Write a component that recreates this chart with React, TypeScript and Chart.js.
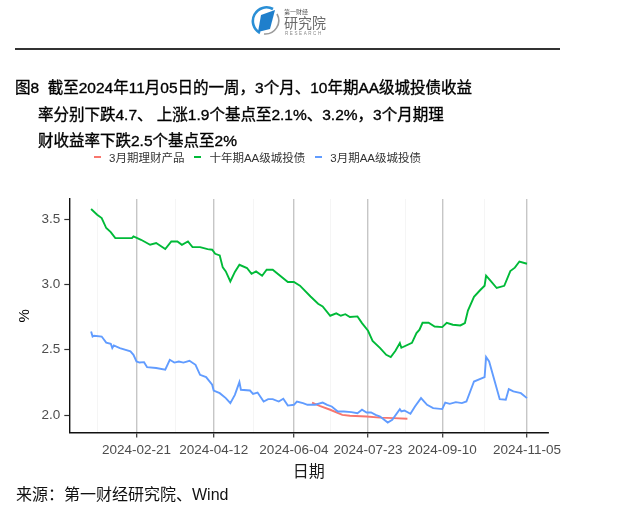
import React, { useEffect, useRef } from 'react'
import { Chart, registerables } from 'chart.js'

Chart.register(...registerables)

// 3月期理财产品
const wmpDates = ['2024-06-16', '2024-06-21', '2024-06-28', '2024-07-06', '2024-07-11', '2024-07-22', '2024-07-31', '2024-08-09', '2024-08-18']
const wmpValues = [2.096, 2.071, 2.041, 2.002, 1.995, 1.989, 1.981, 1.977, 1.972]

// 十年期AA级城投债
const aa10yDates = [
	'2024-01-22', '2024-01-26', '2024-01-29', '2024-02-01', '2024-02-04', '2024-02-07', '2024-02-18', '2024-02-19',
	'2024-02-24', '2024-03-01', '2024-03-05', '2024-03-11', '2024-03-15', '2024-03-19', '2024-03-22', '2024-03-26',
	'2024-03-29', '2024-04-03', '2024-04-08', '2024-04-11', '2024-04-13', '2024-04-16', '2024-04-18', '2024-04-20',
	'2024-04-23', '2024-04-26', '2024-04-29', '2024-05-04', '2024-05-07', '2024-05-10', '2024-05-14', '2024-05-17',
	'2024-05-21', '2024-05-31', '2024-06-04', '2024-06-08', '2024-06-15', '2024-06-20', '2024-06-23', '2024-06-28',
	'2024-07-02', '2024-07-05', '2024-07-08', '2024-07-11', '2024-07-16', '2024-07-19', '2024-07-23', '2024-07-26',
	'2024-07-31', '2024-08-04', '2024-08-07', '2024-08-10', '2024-08-13', '2024-08-14', '2024-08-21', '2024-08-24',
	'2024-08-26', '2024-08-28', '2024-09-01', '2024-09-05', '2024-09-10', '2024-09-13', '2024-09-17', '2024-09-22',
	'2024-09-25', '2024-09-27', '2024-10-01', '2024-10-05', '2024-10-08', '2024-10-09', '2024-10-12', '2024-10-16',
	'2024-10-21', '2024-10-25', '2024-10-28', '2024-10-31', '2024-11-05',
]
const aa10yValues = [
	3.576, 3.533, 3.507, 3.431, 3.4, 3.354, 3.354, 3.367,
	3.341, 3.303, 3.316, 3.27, 3.328, 3.328, 3.303, 3.328,
	3.285, 3.285, 3.27, 3.265, 3.234, 3.221, 3.13, 3.099,
	3.022, 3.095, 3.15, 3.125, 3.081, 3.099, 3.066, 3.112,
	3.112, 3.018, 3.018, 2.99, 2.907, 2.852, 2.831, 2.76,
	2.778, 2.76, 2.772, 2.75, 2.755, 2.704, 2.645, 2.568,
	2.513, 2.461, 2.444, 2.49, 2.551, 2.515, 2.553, 2.627,
	2.653, 2.706, 2.706, 2.678, 2.673, 2.706, 2.691, 2.686,
	2.704, 2.8, 2.905, 2.955, 2.99, 3.066, 3.026, 2.972,
	2.989, 3.102, 3.128, 3.175, 3.158,
]

// 3月期AA级城投债
const aa3mDates = [
	'2024-01-22', '2024-01-23', '2024-01-24', '2024-01-29', '2024-02-01', '2024-02-04', '2024-02-05', '2024-02-06',
	'2024-02-10', '2024-02-17', '2024-02-19', '2024-02-21', '2024-02-23', '2024-02-26', '2024-02-28', '2024-03-05',
	'2024-03-11', '2024-03-14', '2024-03-17', '2024-03-20', '2024-03-23', '2024-03-27', '2024-03-31', '2024-04-03',
	'2024-04-07', '2024-04-11', '2024-04-12', '2024-04-16', '2024-04-20', '2024-04-23', '2024-04-26', '2024-04-29',
	'2024-04-30', '2024-05-06', '2024-05-08', '2024-05-11', '2024-05-15', '2024-05-18', '2024-05-21', '2024-05-25',
	'2024-05-28', '2024-05-31', '2024-06-04', '2024-06-06', '2024-06-10', '2024-06-13', '2024-06-18', '2024-06-23',
	'2024-06-26', '2024-06-29', '2024-07-03', '2024-07-07', '2024-07-12', '2024-07-16', '2024-07-19', '2024-07-22',
	'2024-07-25', '2024-07-28', '2024-07-31', '2024-08-05', '2024-08-08', '2024-08-13', '2024-08-14', '2024-08-16',
	'2024-08-20', '2024-08-23', '2024-08-27', '2024-08-31', '2024-09-04', '2024-09-10', '2024-09-12', '2024-09-15',
	'2024-09-19', '2024-09-23', '2024-09-26', '2024-10-01', '2024-10-08', '2024-10-09', '2024-10-11', '2024-10-15',
	'2024-10-18', '2024-10-22', '2024-10-24', '2024-10-27', '2024-11-01', '2024-11-05',
]
const aa3mValues = [
	2.64, 2.601, 2.607, 2.601, 2.555, 2.546, 2.513, 2.533,
	2.513, 2.487, 2.461, 2.41, 2.402, 2.405, 2.367, 2.36,
	2.347, 2.423, 2.402, 2.41, 2.402, 2.416, 2.385, 2.308,
	2.291, 2.232, 2.188, 2.168, 2.13, 2.092, 2.155, 2.252,
	2.194, 2.188, 2.163, 2.173, 2.104, 2.122, 2.122, 2.104,
	2.125, 2.073, 2.079, 2.104, 2.092, 2.079, 2.079, 2.096,
	2.079, 2.066, 2.028, 2.028, 2.023, 2.015, 2.041, 2.02,
	2.02, 2.002, 1.989, 1.943, 1.964, 2.046, 2.028, 2.035,
	2.01, 2.066, 2.13, 2.079, 2.053, 2.046, 2.096, 2.086,
	2.099, 2.092, 2.104, 2.257, 2.291, 2.444, 2.41, 2.245,
	2.122, 2.117, 2.199, 2.181, 2.168, 2.13,
]

const xTickDates = ['2024-02-21', '2024-04-12', '2024-06-04', '2024-07-23', '2024-09-10', '2024-11-05']
const yTicks = [2.0, 2.5, 3.0, 3.5]

const seriesNames = ['3月期理财产品', '十年期AA级城投债', '3月期AA级城投债']
const seriesColors = ['#F8766D', '#00BA38', '#619CFF']

const BASE = Date.UTC(2024, 0, 1)
const DAY = 86400000
const dayOf = (s: string) => {
	const [y, m, d] = s.split('-').map(Number)
	return (Date.UTC(y, m - 1, d) - BASE) / DAY
}
const dateOf = (v: number) => new Date(BASE + Math.round(v) * DAY).toISOString().slice(0, 10)

const toPoints = (dates: string[], values: number[]) => dates.map((d, i) => ({ x: dayOf(d), y: values[i] }))

const LATIN = "'Liberation Sans', 'Noto Sans CJK SC', sans-serif"

const LineChart: React.FC = () => {
	const chartRef = useRef<HTMLCanvasElement>(null)

	useEffect(() => {
		if (!chartRef.current) return
		const context = chartRef.current.getContext('2d')
		if (!context) return

		const major = xTickDates.map(dayOf)
		const minor: number[] = [major[0] - (major[1] - major[0]) / 2]
		for (let i = 0; i < major.length - 1; i++) minor.push((major[i] + major[i + 1]) / 2)
		const allTicks = [...major, ...minor].sort((a, b) => a - b)
		const isMajor = (v: number) => major.includes(v)

		const chart = new Chart(context, {
			type: 'line',
			data: {
				datasets: [
					{
						label: seriesNames[0],
						data: toPoints(wmpDates, wmpValues),
						borderColor: seriesColors[0],
						order: 3,
					},
					{
						label: seriesNames[1],
						data: toPoints(aa10yDates, aa10yValues),
						borderColor: seriesColors[1],
						order: 2,
					},
					{
						label: seriesNames[2],
						data: toPoints(aa3mDates, aa3mValues),
						borderColor: seriesColors[2],
						order: 1,
					},
				],
			},
			options: {
				animation: false,
				responsive: true,
				maintainAspectRatio: false,
				layout: { padding: { left: 0, right: 92, top: 199, bottom: 0 } },
				elements: {
					point: { radius: 0 },
					line: { borderWidth: 1.9, tension: 0 },
				},
				plugins: {
					legend: { display: false },
					tooltip: { enabled: false },
				},
				scales: {
					x: {
						type: 'linear',
						min: 6.6,
						max: 322.9,
						afterBuildTicks: (scale) => {
							scale.ticks = allTicks.map((v) => ({ value: v }))
						},
						afterFit: (scale) => {
							scale.height = 83.5
						},
						ticks: {
							autoSkip: false,
							maxRotation: 0,
							padding: 5,
							color: '#4d4d4d',
							font: { family: LATIN, size: 13.5 },
							callback: (value) => (isMajor(Number(value)) ? dateOf(Number(value)) : ''),
						},
						grid: {
							color: (ctx) => (isMajor(ctx.tick.value) ? '#c6c6c6' : '#f3f3f3'),
							lineWidth: (ctx) => (isMajor(ctx.tick.value) ? 1.4 : 0.8),
							tickColor: (ctx) => (isMajor(ctx.tick.value) ? '#333333' : 'rgba(0,0,0,0)'),
							tickLength: 5,
							tickWidth: 1.2,
						},
						border: { display: true, color: '#111111', width: 1.4 },
						title: {
							display: true,
							text: '日期',
							color: '#1a1a1a',
							font: { family: LATIN, size: 16 },
							padding: { top: 0, bottom: 34 },
						},
					},
					y: {
						type: 'linear',
						min: 1.867,
						max: 3.653,
						afterBuildTicks: (scale) => {
							scale.ticks = yTicks.map((v) => ({ value: v }))
						},
						afterFit: (scale) => {
							scale.width = 69.3
						},
						ticks: {
							padding: 4,
							color: '#4d4d4d',
							font: { family: LATIN, size: 13.5 },
							callback: (value) => Number(value).toFixed(1),
						},
						grid: {
							drawOnChartArea: false,
							tickColor: '#333333',
							tickLength: 5,
							tickWidth: 1.2,
						},
						border: { display: true, color: '#111111', width: 1.4 },
						title: {
							display: true,
							text: '%',
							color: '#000000',
							font: { family: LATIN, size: 15 },
							padding: { top: 16, bottom: 0 },
						},
					},
				},
			},
		})

		return () => {
			chart.destroy()
		}
	}, [])

	return <canvas ref={chartRef} />
}

const Logo: React.FC = () => (
	<div style={{ position: 'absolute', left: 251, top: 5, width: 90, height: 34 }}>
		<svg width="30" height="31" viewBox="0 0 30 31" style={{ position: 'absolute', left: 0, top: 0 }}>
			<path d="M 22 4 A 13.5 13.5 0 1 0 9 28" fill="none" stroke="#2a8fd6" strokeWidth="2.6" />
			<path d="M 26 9 A 13.5 13.5 0 0 1 13 29" fill="none" stroke="#9a9a9a" strokeWidth="1.6" />
			<polygon points="10,10 24,5 19,24 7,27" fill="#1f7fcc" />
		</svg>
		<div style={{ position: 'absolute', left: 33, top: 4, fontSize: 6, color: '#555', fontFamily: LATIN, lineHeight: 1 }}>第一财经</div>
		<div style={{ position: 'absolute', left: 33, top: 11, fontSize: 14, color: '#6b6b6b', fontFamily: LATIN, lineHeight: 1 }}>研究院</div>
		<div style={{ position: 'absolute', left: 34, top: 27, fontSize: 4.5, letterSpacing: 1.6, color: '#888', fontFamily: LATIN, lineHeight: 1 }}>RESEARCH</div>
	</div>
)

const App: React.FC = () => {
	const titleStyle: React.CSSProperties = {
		position: 'absolute',
		fontFamily: LATIN,
		fontSize: 15.5,
		lineHeight: '26.5px',
		color: '#000',
		whiteSpace: 'pre',
		WebkitTextStroke: '0.35px #000',
	}
	return (
		<div style={{ position: 'absolute', left: 0, top: 0, width: 640, height: 516, background: '#fff', overflow: 'hidden' }}>
			<div style={{ position: 'absolute', left: 0, top: 0, width: 640, height: 516 }}>
				<LineChart />
			</div>
			<Logo />
			<div style={{ position: 'absolute', left: 15, top: 48, width: 545, height: 1.5, background: '#333' }} />
			<div style={{ ...titleStyle, left: 15, top: 75 }}>图8  截至2024年11月05日的一周，3个月、10年期AA级城投债收益</div>
			<div style={{ ...titleStyle, left: 38, top: 101.5 }}>率分别下跌4.7、 上涨1.9个基点至2.1%、3.2%，3个月期理</div>
			<div style={{ ...titleStyle, left: 38, top: 128 }}>财收益率下跌2.5个基点至2%</div>
			<div
				style={{
					position: 'absolute',
					left: 94,
					top: 149,
					height: 16,
					display: 'flex',
					alignItems: 'center',
					fontFamily: LATIN,
					fontSize: 11.5,
					color: '#333',
				}}
			>
				{seriesNames.map((name, i) => (
					<div key={name} style={{ display: 'flex', alignItems: 'center', marginRight: 10 }}>
						<span style={{ display: 'inline-block', width: 7, height: 2, background: seriesColors[i], marginRight: 8 }} />
						<span>{name}</span>
					</div>
				))}
			</div>
			<div style={{ position: 'absolute', left: 16, top: 485, fontFamily: LATIN, fontSize: 16, color: '#111', lineHeight: '20px', whiteSpace: 'pre' }}>
				来源：第一财经研究院、Wind
			</div>
		</div>
	)
}

export default App
